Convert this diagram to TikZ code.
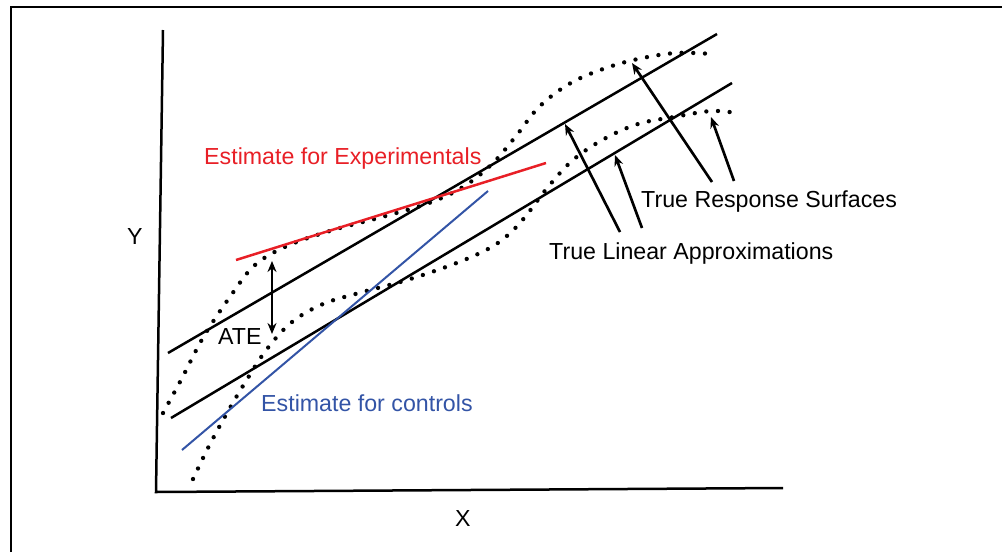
\documentclass[tikz,border=0pt]{standalone}
\usepackage{fontspec}
\setmainfont{Liberation Sans}
\usepackage{xcolor}
\definecolor{expline}{rgb}{0.91,0.12,0.15}
\definecolor{ctrlline}{rgb}{0.20,0.33,0.65}
\definecolor{inkdraw}{rgb}{0,0,0}
\usepackage{tikz}
\usetikzlibrary{arrows.meta}

\begin{document}
\begin{tikzpicture}[
  x=0.03cm, y=-0.03cm,
  >={Stealth[length=3.3mm, width=2.7mm]},
  every node/.style={inner sep=0pt, font=\fontsize{19.8}{24}\selectfont},
  frameline/.style ={draw=inkdraw, line width=0.6mm},
  axisline/.style  ={draw=inkdraw, line width=0.75mm},
  linapprox/.style ={draw=inkdraw, line width=0.75mm},
  surface/.style   ={draw=inkdraw, line width=1.3mm, line cap=round, dash pattern=on 0pt off 3.5mm},
  estexp/.style    ={draw=expline,  line width=0.75mm},
  estctrl/.style   ={draw=ctrlline, line width=0.6mm},
  pointer/.style   ={->, draw=inkdraw, line width=0.8mm},
  lbl/.style       ={anchor=base west}
]
\useasboundingbox (0,0) rectangle (1002,552);
\draw[frameline] (11,552) -- (11,7) -- (1002,7);

% axes
\coordinate (ytop)   at (163,30);
\coordinate (origin) at (156,492);
\coordinate (xend)   at (783,488);
\draw[axisline] (ytop) -- (origin) -- (xend);
\node[lbl] (ylab) at (127,244) {Y};
\node[lbl] (xlab) at (455,526) {X};

% true response surfaces
\draw[surface] plot[smooth, tension=0.6] coordinates {
  (163,413) (181,380) (204,336) (232,294) (255,265) (287,246) (333,230)
  (382,217) (429,203) (463,187) (492,164) (516,136) (539,107) (569,84)
  (603,69) (638,59) (676,53) (712,54)};
\draw[surface] plot[smooth, tension=0.6] coordinates {
  (193,479) (209,446) (227,413) (246,381) (267,349) (292,322) (323,304)
  (359,293) (407,280) (454,264) (488,249) (508,235) (525,217) (548,187)
  (573,160) (604,139) (638,124) (674,117) (711,111) (736,113)};

% true linear approximations
\coordinate (expA)  at (168,353);
\coordinate (expB)  at (717,34);
\coordinate (ctrlA) at (171,418);
\coordinate (ctrlB) at (732,83);
\draw[linapprox] (expA) -- (expB);
\draw[linapprox] (ctrlA) -- (ctrlB);

% estimates
\coordinate (redA)  at (236,260);
\coordinate (redB)  at (546,163);
\coordinate (blueA) at (182,450);
\coordinate (blueB) at (488,191);
\draw[estexp]  (redA) -- (redB);
\draw[estctrl] (blueA) -- (blueB);
\node[lbl, text=expline]  (explab)  at (204,164) {Estimate for Experimentals};
\node[lbl, text=ctrlline] (ctrllab) at (261,411) {Estimate for controls};

% treatment effect
\coordinate (ateTop) at (272,261);
\coordinate (ateBot) at (272,334);
\draw[pointer, <->] (ateTop) -- (ateBot);
\node[lbl] (ate) at (218,344) {ATE};

% callouts
\node[lbl] (resp) at (641,207) {True Response Surfaces};
\node[lbl] (lin)  at (549,259) {True Linear Approximations};
\coordinate (linTailA)  at (620,232);
\coordinate (linTailB)  at (642,228);
\coordinate (respTailA) at (712,182);
\coordinate (respTailB) at (734,181);
\coordinate (linTipA)   at (565,124);
\coordinate (linTipB)   at (615,155);
\coordinate (respTipA)  at (632,63);
\coordinate (respTipB)  at (711,117);
\draw[pointer] (linTailA)  -- (linTipA);
\draw[pointer] (linTailB)  -- (linTipB);
\draw[pointer] (respTailA) -- (respTipA);
\draw[pointer] (respTailB) -- (respTipB);

\end{tikzpicture}
\end{document}
